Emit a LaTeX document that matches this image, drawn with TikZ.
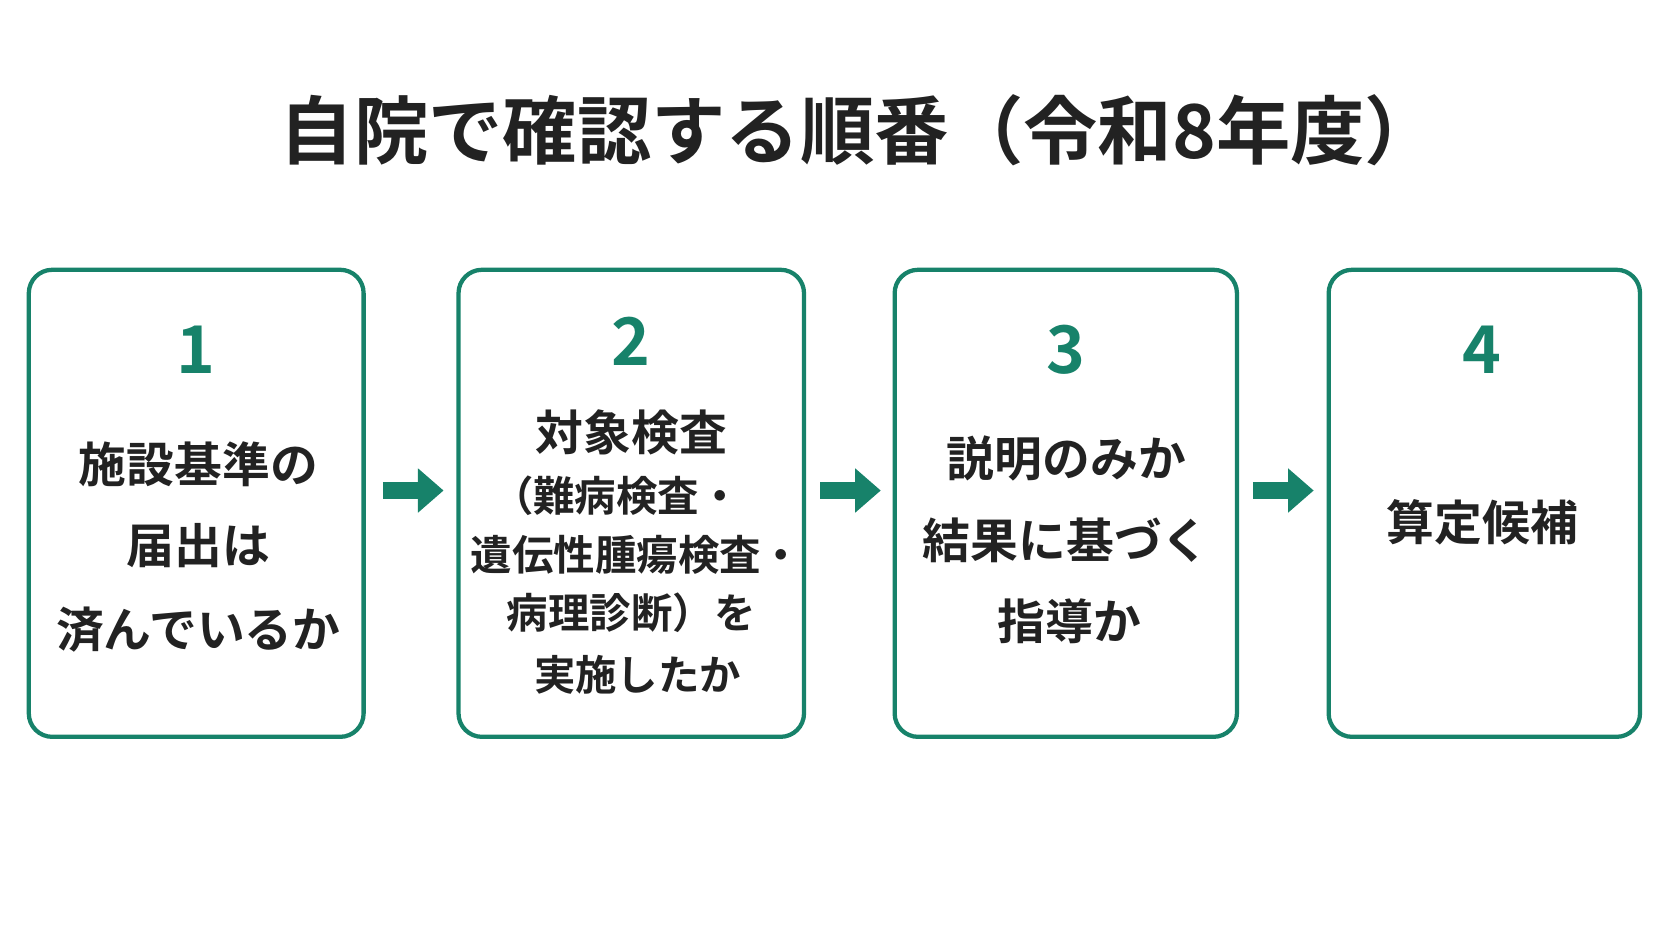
\documentclass[tikz,border=0pt]{standalone}
\usepackage{fontspec}
\newfontfamily\jp{Noto Sans CJK JP}[BoldFont={* Bold}]
\usetikzlibrary{arrows.meta}
\definecolor{grn}{HTML}{17826A}
\definecolor{ink}{HTML}{222222}
\begin{document}
\begin{tikzpicture}[x=0.5bp,y=-0.5bp,
  box/.style={draw=grn,line width=2bp,rounded corners=11bp,minimum width=#1,minimum height=219bp,inner sep=0},
  num/.style={text=grn,font=\jp\bfseries\fontsize{31}{31}\selectfont},
  txt/.style={text=ink,font=\jp\bfseries\fontsize{22.5}{22.5}\selectfont},
  sml/.style={text=ink,font=\jp\bfseries\fontsize{19.5}{19.5}\selectfont},
  flowarrow/.style={grn,line width=8bp,-{Triangle[length=12bp,width=20bp]}}]
\useasboundingbox (0,0) rectangle (1568,882);
\node[text=ink,font=\jp\bfseries\fontsize{35}{35}\selectfont] (title) at (806,122) {自院で確認する順番（令和8年度）};
\node[box=157bp] (b1) at (184,472) {};
\node[box=162bp] (b2) at (592,472) {};
\node[box=160.5bp] (b3) at (999.5,472) {};
\node[box=146bp] (b4) at (1392,472) {};
\draw[flowarrow,shorten <=8bp,shorten >=6bp] ([yshift=6bp]b1.east) -- ([yshift=6bp]b2.west);
\draw[flowarrow,shorten <=6.5bp,shorten >=5.5bp] ([yshift=6bp]b2.east) -- ([yshift=6bp]b3.west);
\draw[flowarrow,shorten <=6.5bp,shorten >=6bp] ([yshift=6bp]b3.east) -- ([yshift=6bp]b4.west);
\node[num] (n1) at (184,328) {1};
\node[txt] (t11) at (186,435) {施設基準の};
\node[txt] (t12) at (186,512) {届出は};
\node[txt] (t13) at (186,590) {済んでいるか};
\node[num] (n2) at (592,320) {2};
\node[txt] (t21) at (592,405) {対象検査};
\node[sml] (t22) at (578,465) {（難病検査・};
\node[sml] (t23) at (597,520) {遺伝性腫瘍検査・};
\node[sml] (t24) at (592,575) {病理診断）を};
\node[sml] (t25) at (598,633) {実施したか};
\node[num] (n3) at (1000,328) {3};
\node[txt] (t31) at (1000,430) {説明のみか};
\node[txt] (t32) at (1000,507) {結果に基づく};
\node[txt] (t33) at (1003,583) {指導か};
\node[num] (n4) at (1390,328) {4};
\node[txt] (t41) at (1390,490) {算定候補};
\end{tikzpicture}
\end{document}
